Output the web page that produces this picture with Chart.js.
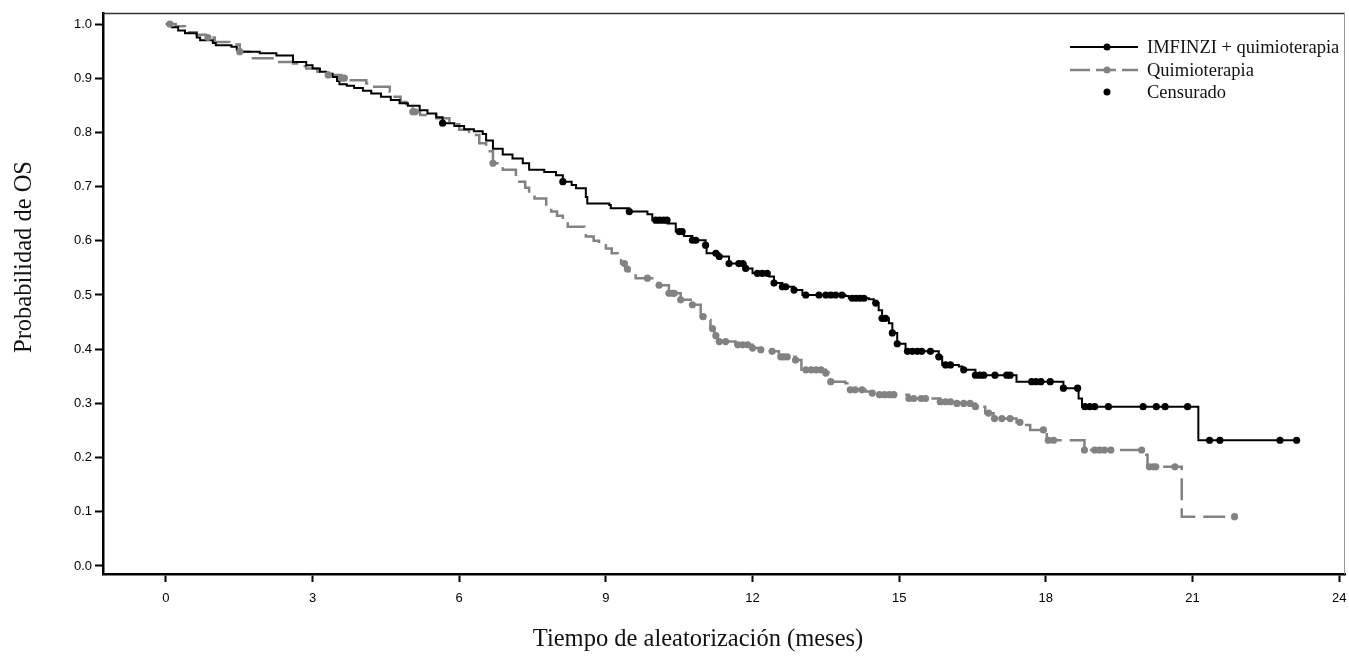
<!DOCTYPE html>
<html lang="es">
<head>
<meta charset="UTF-8">
<title>Probabilidad de OS</title>
<script src="https://cdn.jsdelivr.net/npm/chart.js"></script>
<style>
    html, body { margin: 0; padding: 0; background: #fff; }
    #wrap { width: 1349px; height: 656px; position: relative; }
</style>
</head>
<body>
<div id="wrap"><canvas id="kmChart"></canvas></div>
<script>
    // Tiempos (meses) y probabilidad de OS - IMFINZI + quimioterapia
    const imfTimes = [0, 0.12, 0.25, 0.39, 0.63, 0.7, 0.96, 1.02, 1.34, 1.45, 1.51, 1.92, 2.26, 2.6, 2.87, 3.0, 3.15, 3.28, 3.41, 3.5,
        3.55, 3.7, 3.85, 4.03, 4.2, 4.4, 4.6, 4.78, 4.95, 5.19, 5.35, 5.53, 5.66, 5.9, 6.1, 6.3, 6.48, 6.55, 6.69, 6.89,
        7.09, 7.3, 7.43, 7.74, 7.98, 8.12, 8.3, 8.39, 8.59, 8.62, 9.07, 9.1, 9.48, 9.85, 9.95, 10.26, 10.43, 10.6, 10.77, 11.04,
        11.06, 11.32, 11.52, 11.86, 12.0, 12.34, 12.44, 12.61, 12.85, 13.02, 13.9, 13.97, 14.38, 14.48, 14.58, 14.65, 14.79, 14.86, 14.96, 15.13,
        15.81, 15.88, 16.22, 16.29, 16.56, 17.4, 18.36, 18.67, 18.74, 21.12, 23.13];
    const imfSurv = [1.0, 0.994, 0.988, 0.983, 0.975, 0.97, 0.965, 0.961, 0.958, 0.952, 0.949, 0.946, 0.942, 0.93, 0.924, 0.918, 0.912, 0.908, 0.902, 0.895,
        0.889, 0.886, 0.882, 0.877, 0.872, 0.866, 0.86, 0.854, 0.849, 0.841, 0.835, 0.828, 0.817, 0.812, 0.806, 0.802, 0.797, 0.785, 0.77, 0.759,
        0.752, 0.743, 0.731, 0.727, 0.721, 0.709, 0.703, 0.697, 0.681, 0.669, 0.666, 0.66, 0.654, 0.649, 0.638, 0.632, 0.617, 0.609, 0.601, 0.592,
        0.577, 0.571, 0.558, 0.549, 0.54, 0.534, 0.522, 0.515, 0.509, 0.5, 0.498, 0.494, 0.492, 0.485, 0.472, 0.457, 0.448, 0.43, 0.41, 0.396,
        0.386, 0.371, 0.368, 0.362, 0.352, 0.34, 0.328, 0.309, 0.294, 0.232, 0.232];
    const imfCensored = [5.66, 8.12, 9.48, 10.02, 10.1, 10.18, 10.25, 10.5, 10.56, 10.77, 10.84, 11.04, 11.25, 11.32, 11.52, 11.72, 11.8, 11.86,
        12.1, 12.2, 12.3, 12.44, 12.61, 12.68, 12.85, 13.09, 13.36, 13.5, 13.6, 13.7, 13.83, 14.04, 14.12, 14.2, 14.28, 14.52, 14.65, 14.72,
        14.86, 14.96, 15.17, 15.27, 15.37, 15.46, 15.64, 15.81, 15.95, 16.05, 16.32, 16.56, 16.65, 16.73, 16.96, 17.2, 17.27, 17.71, 17.8,
        17.9, 18.09, 18.36, 18.65, 18.8, 18.9, 19.0, 19.28, 19.99, 20.26, 20.44, 20.9, 21.35, 21.56, 22.79, 23.13];

    // Quimioterapia
    const chemoTimes = [0, 0.2, 0.39, 0.45, 0.63, 0.86, 1.0, 1.3, 1.51, 1.78, 2.26, 2.6, 2.75, 2.87, 3.1, 3.32, 3.59, 3.75, 4.1, 4.23,
        4.58, 4.65, 4.8, 4.92, 5.05, 5.2, 5.53, 5.8, 6.0, 6.2, 6.41, 6.55, 6.69, 6.89, 7.16, 7.23, 7.35, 7.43, 7.54, 7.78,
        7.88, 8.0, 8.12, 8.22, 8.56, 8.59, 8.75, 8.86, 9.0, 9.12, 9.24, 9.31, 9.4, 9.48, 9.61, 9.95, 10.09, 10.29, 10.53, 10.77,
        10.94, 11.04, 11.14, 11.22, 11.32, 11.65, 12.0, 12.17, 12.4, 12.54, 12.88, 13.0, 13.5, 13.56, 13.9, 13.97, 14.31, 14.45, 14.55, 15.2,
        15.84, 16.18, 16.56, 16.76, 16.93, 17.4, 17.51, 17.68, 17.99, 18.02, 18.79, 19.98, 20.08, 20.78, 21.86];
    const chemoSurv = [1.0, 0.996, 0.99, 0.985, 0.98, 0.975, 0.967, 0.962, 0.949, 0.937, 0.93, 0.927, 0.922, 0.918, 0.912, 0.906, 0.9, 0.896, 0.89, 0.884,
        0.875, 0.866, 0.856, 0.847, 0.838, 0.832, 0.826, 0.815, 0.805, 0.795, 0.78, 0.765, 0.743, 0.731, 0.718, 0.709, 0.698, 0.688, 0.678, 0.663,
        0.654, 0.646, 0.638, 0.626, 0.617, 0.608, 0.6, 0.592, 0.586, 0.577, 0.568, 0.558, 0.548, 0.54, 0.531, 0.522, 0.518, 0.503, 0.491, 0.482,
        0.46, 0.454, 0.438, 0.425, 0.414, 0.408, 0.402, 0.399, 0.396, 0.386, 0.38, 0.362, 0.356, 0.34, 0.337, 0.325, 0.322, 0.319, 0.316, 0.309,
        0.303, 0.3, 0.294, 0.282, 0.272, 0.265, 0.26, 0.251, 0.248, 0.232, 0.214, 0.205, 0.183, 0.091, 0.091];
    const chemoCensored = [0.08, 0.86, 1.51, 3.32, 3.59, 3.65, 5.05, 5.1, 6.69, 9.38, 9.44, 9.85, 10.09, 10.29, 10.36, 10.4, 10.53, 10.77, 10.99,
        11.18, 11.25, 11.32, 11.45, 11.7, 11.8, 11.9, 12.0, 12.17, 12.4, 12.58, 12.64, 12.71, 12.88, 13.09, 13.2, 13.3, 13.4, 13.5, 13.6,
        14.0, 14.1, 14.24, 14.45, 14.6, 14.7, 14.8, 14.89, 15.2, 15.3, 15.45, 15.54, 15.84, 15.95, 16.05, 16.18, 16.32, 16.45, 16.56,
        16.83, 16.95, 17.1, 17.27, 17.47, 17.95, 18.05, 18.16, 18.79, 19.0, 19.1, 19.2, 19.33, 19.96, 20.12, 20.2, 20.25, 20.64, 21.86];

    const xTicks = [0, 3, 6, 9, 12, 15, 18, 21, 24];
    const yTicks = [0, 0.1, 0.2, 0.3, 0.4, 0.5, 0.6, 0.7, 0.8, 0.9, 1.0];

    const seriesNames = ['IMFINZI + quimioterapia', 'Quimioterapia', 'Censurado'];
    const xTitle = 'Tiempo de aleatorización (meses)';
    const yTitle = 'Probabilidad de OS';

    const BLACK = '#000000';
    const GREY = '#828282';
    const SERIF = '"Liberation Serif", "Times New Roman", serif';
    const SANS = '"Liberation Sans", Arial, sans-serif';

    // valor de la curva escalonada en el tiempo t
    function survAt(times, surv, t) {
        let v = surv[0];
        for (let i = 0; i < times.length; i++) {
            if (times[i] <= t) v = surv[i];
        }
        return v;
    }

    const toPoints = (times, surv) => times.map((t, i) => ({x: t, y: surv[i]}));
    const censPoints = (cens, times, surv) => cens.map(t => ({x: t, y: survAt(times, surv, t)}));

    // leyenda, marco fino y títulos de ejes
    const extrasPlugin = {
        id: 'extras',
        afterDraw(chart) {
            const ctx = chart.ctx;
            const area = chart.chartArea;
            ctx.save();

            // borde fino superior y derecho
            ctx.lineWidth = 1.5;
            ctx.strokeStyle = '#333';
            ctx.beginPath();
            ctx.moveTo(area.left, area.top + 0.5);
            ctx.lineTo(area.right, area.top + 0.5);
            ctx.stroke();
            ctx.lineWidth = 1;
            ctx.strokeStyle = '#9a9a9a';
            ctx.beginPath();
            ctx.moveTo(area.right - 0.5, area.top);
            ctx.lineTo(area.right - 0.5, area.bottom);
            ctx.stroke();

            // leyenda
            const lx0 = 1070, lx1 = 1138, dotX = 1107, textX = 1147;
            const rows = [47, 70, 92];
            ctx.font = '18.5px ' + SERIF;
            ctx.textAlign = 'left';
            ctx.textBaseline = 'middle';

            ctx.strokeStyle = BLACK;
            ctx.lineWidth = 2;
            ctx.beginPath();
            ctx.moveTo(lx0, rows[0]);
            ctx.lineTo(lx1, rows[0]);
            ctx.stroke();
            ctx.fillStyle = BLACK;
            ctx.beginPath();
            ctx.arc(dotX, rows[0], 3.5, 0, Math.PI * 2);
            ctx.fill();

            ctx.strokeStyle = GREY;
            ctx.lineWidth = 2.5;
            ctx.setLineDash([20, 6]);
            ctx.beginPath();
            ctx.moveTo(lx0, rows[1]);
            ctx.lineTo(lx1, rows[1]);
            ctx.stroke();
            ctx.setLineDash([]);
            ctx.fillStyle = GREY;
            ctx.beginPath();
            ctx.arc(dotX, rows[1], 3.5, 0, Math.PI * 2);
            ctx.fill();

            ctx.fillStyle = BLACK;
            ctx.beginPath();
            ctx.arc(dotX, rows[2], 3.5, 0, Math.PI * 2);
            ctx.fill();

            ctx.fillStyle = '#111';
            seriesNames.forEach((name, i) => ctx.fillText(name, textX, rows[i] + 1));

            // títulos de ejes
            ctx.font = '24.5px ' + SERIF;
            ctx.textBaseline = 'alphabetic';
            ctx.textAlign = 'center';
            ctx.fillText(xTitle, 698, 646);
            ctx.translate(31, 257);
            ctx.rotate(-Math.PI / 2);
            ctx.fillText(yTitle, 0, 0);

            ctx.restore();
        }
    };

    const ctx = document.getElementById('kmChart').getContext('2d');
    const kmChart = new Chart(ctx, {
        type: 'scatter',
        data: {
            datasets: [
                {
                    label: 'Censurado IMFINZI',
                    data: censPoints(imfCensored, imfTimes, imfSurv),
                    pointRadius: 3.6,
                    pointBackgroundColor: BLACK,
                    pointBorderWidth: 0,
                    order: 0
                },
                {
                    label: 'Censurado Quimioterapia',
                    data: censPoints(chemoCensored, chemoTimes, chemoSurv),
                    pointRadius: 3.6,
                    pointBackgroundColor: GREY,
                    pointBorderWidth: 0,
                    order: 1
                },
                {
                    label: seriesNames[0],
                    data: toPoints(imfTimes, imfSurv),
                    showLine: true,
                    stepped: true,
                    borderColor: BLACK,
                    borderWidth: 2,
                    pointRadius: 0,
                    order: 2
                },
                {
                    label: seriesNames[1],
                    data: toPoints(chemoTimes, chemoSurv),
                    showLine: true,
                    stepped: true,
                    borderColor: GREY,
                    borderWidth: 2.5,
                    borderDash: [22, 8],
                    pointRadius: 0,
                    order: 3
                }
            ]
        },
        options: {
            responsive: true,
            maintainAspectRatio: false,
            animation: false,
            events: [],
            layout: { padding: { top: 13, right: -3, left: 0, bottom: 0 } },
            plugins: {
                legend: { display: false },
                tooltip: { enabled: false }
            },
            scales: {
                x: {
                    type: 'linear',
                    min: -1.287,
                    max: 24.12,
                    afterBuildTicks: s => { s.ticks = xTicks.map(v => ({value: v})); },
                    afterFit: s => { s.height = 82; s.paddingLeft = 0; s.paddingRight = 0; },
                    ticks: {
                        font: { family: SANS, size: 13 },
                        color: '#000',
                        padding: 9,
                        maxRotation: 0,
                        autoSkip: false
                    },
                    grid: { drawOnChartArea: false, drawTicks: true, tickLength: 8, tickWidth: 2, tickColor: '#000' },
                    border: { display: true, color: '#000', width: 2.5 }
                },
                y: {
                    type: 'linear',
                    min: -0.0148,
                    max: 1.0203,
                    afterBuildTicks: s => { s.ticks = yTicks.map(v => ({value: v})); },
                    afterFit: s => { s.width = 103; s.paddingTop = 0; s.paddingBottom = 0; },
                    ticks: {
                        font: { family: SANS, size: 13 },
                        color: '#000',
                        padding: 3,
                        callback: v => v.toFixed(1)
                    },
                    grid: { drawOnChartArea: false, drawTicks: true, tickLength: 8, tickWidth: 2, tickColor: '#000' },
                    border: { display: true, color: '#000', width: 2.5 }
                }
            }
        },
        plugins: [extrasPlugin]
    });
</script>
</body>
</html>
